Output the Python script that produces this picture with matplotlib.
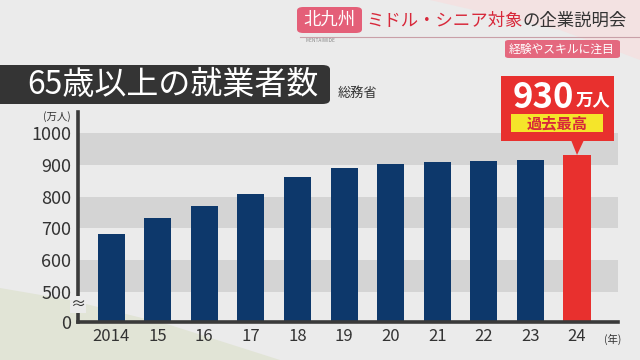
import numpy as np
import matplotlib.pyplot as plt
from matplotlib.patches import FancyBboxPatch, Polygon, Rectangle

plt.rcParams['font.family'] = ['Noto Sans CJK JP', 'DejaVu Sans']

years = ['2014', '15', '16', '17', '18', '19', '20', '21', '22', '23', '24']
workers = [682, 732, 770, 807, 862, 889, 903, 908, 912, 914, 930]
yticks = [0, 500, 600, 700, 800, 900, 1000]
bands = [(500, 600), (700, 800), (900, 1000)]

W, H = 640, 360


def P(x, y):
    return (x / W, 1 - y / H)


# broken axis: 0-500 squeezed into a short bottom strip
BOT = 94.0


def fwd(v):
    v = np.asarray(v, dtype=float)
    return np.where(v < 500, v * BOT / 500, v - 500 + BOT)


def inv(d):
    d = np.asarray(d, dtype=float)
    return np.where(d < BOT, d * 500 / BOT, d + 500 - BOT)


fig = plt.figure(figsize=(6.4, 3.6), dpi=100)
fig.patch.set_facecolor('#ebebeb')

# background decorations
fig.patches.append(Polygon([P(0, 288), P(70, 300), P(170, 325), P(280, 360), P(0, 360)],
                           closed=True, transform=fig.transFigure, facecolor='#e1e4d6',
                           edgecolor='none', zorder=-5))
fig.patches.append(Polygon([P(430, 0), P(640, 0), P(640, 60), P(560, 30)],
                           closed=True, transform=fig.transFigure, facecolor='#f3e2e2',
                           edgecolor='none', zorder=-5))

ax = fig.add_axes([78 / W, 1 - 322 / H, 540 / W, 210 / H])
ax.set_facecolor('none')
ax.set_yscale('function', functions=(fwd, inv))

x = np.arange(len(years))
colors = ['#0d386b'] * (len(years) - 1) + ['#e8302e']
ax.bar(x, workers, width=0.58, color=colors, zorder=3)
for lo, hi in bands:
    ax.axhspan(lo, hi, color='#d4d4d4', zorder=1, lw=0)

ax.set_xlim(-0.71, 10.88)
ax.set_ylim(0, 1066)
ax.set_yticks(yticks)
ax.set_yticklabels([str(t) for t in yticks], fontsize=13, color='#333333')
ax.set_xticks(x)
ax.set_xticklabels(years, fontsize=12, color='#333333')
ax.tick_params(axis='y', length=0, pad=5)
ax.tick_params(axis='x', length=0, pad=4)
for s in ['top', 'right']:
    ax.spines[s].set_visible(False)
for s in ['left', 'bottom']:
    ax.spines[s].set_color('#3a3a3a')
    ax.spines[s].set_linewidth(2.6)
    ax.spines[s].set_zorder(4)

ax.text(-0.71, 290, '≈', fontsize=11, color='#333333', ha='center', va='center',
        zorder=5, bbox=dict(facecolor='#ebebeb', edgecolor='none', pad=0.1))

fig.text(*P(57, 117), '(万人)', fontsize=7.5, color='#333333', ha='center', va='center')
fig.text(*P(613, 339), '(年)', fontsize=7.5, color='#333333', ha='center', va='center')

# title box
fig.patches.append(FancyBboxPatch(P(-10, 104), 340 / W, 39 / H, transform=fig.transFigure,
                                  boxstyle='round,pad=0,rounding_size=0.012',
                                  facecolor='#343434', edgecolor='none'))
fig.text(*P(27, 85), '65歳以上の就業者数', fontsize=23, color='white', va='center', ha='left')
fig.text(*P(338, 93), '総務省', fontsize=9.5, color='#333333', va='center', ha='left')

# top banner
fig.patches.append(FancyBboxPatch(P(297, 33), 65 / W, 26 / H, transform=fig.transFigure,
                                  boxstyle='round,pad=0,rounding_size=0.01',
                                  facecolor='#e45f78', edgecolor='none'))
fig.text(*P(329, 20), '北九州', fontsize=12.5, color='white', ha='center', va='center')
fig.text(*P(366, 21), 'ミドル・シニア対象', fontsize=12.5, color='#d8283a', ha='left', va='center')
fig.text(*P(522, 21), 'の企業説明会', fontsize=12.5, color='#333333', ha='left', va='center')
fig.lines.append(plt.Line2D([300 / W, 1], [1 - 37 / H] * 2, transform=fig.transFigure,
                            color='#c9a0a8', lw=0.8))
fig.text(*P(305, 41), 'MENTAIWIDE', fontsize=3.5, color='#888888', ha='left', va='center')
fig.patches.append(FancyBboxPatch(P(505, 58), 115 / W, 18 / H, transform=fig.transFigure,
                                  boxstyle='round,pad=0,rounding_size=0.006',
                                  facecolor='#e4687e', edgecolor='none'))
fig.text(*P(562, 49), '経験やスキルに注目', fontsize=8.5, color='white', ha='center', va='center')

# callout for the latest value
fig.patches.append(Rectangle(P(501, 141), 113 / W, 65 / H, transform=fig.transFigure,
                             facecolor='#e8302e', edgecolor='none'))
fig.patches.append(Polygon([P(571, 140), P(584, 140), P(577, 155)], closed=True,
                           transform=fig.transFigure, facecolor='#e8302e', edgecolor='none'))
fig.patches.append(Rectangle(P(511, 132), 92 / W, 18 / H, transform=fig.transFigure,
                             facecolor='#f5e52a', edgecolor='none'))
fig.text(*P(574, 97), str(workers[-1]), fontsize=25, color='white', weight='bold',
         ha='right', va='center')
fig.text(*P(576, 100), '万人', fontsize=12.5, color='white', weight='bold',
         ha='left', va='center')
fig.text(*P(557, 123), '過去最高', fontsize=11, color='#d8283a', weight='bold',
         ha='center', va='center')

fig.savefig('out.png', dpi=100, facecolor=fig.get_facecolor())
